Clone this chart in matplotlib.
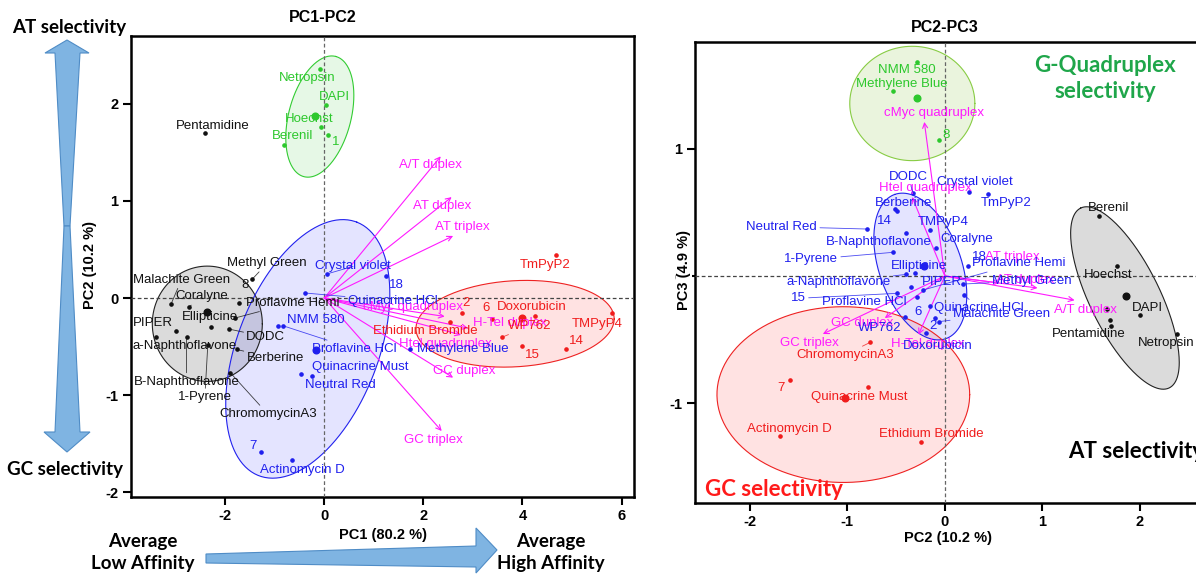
import numpy as np
import matplotlib.pyplot as plt
from matplotlib.patches import Polygon

plt.rcParams['font.family'] = ['Liberation Sans', 'DejaVu Sans']
plt.rcParams['axes.unicode_minus'] = False

W, H = 1196, 575

# ---------------- PC1-PC2 (left) ----------------
# AT binders (green)
L_green_names = ['Netropsin', 'DAPI', 'Hoechst', 'Berenil', '1']
L_green_x = [-0.09, 0.04, -0.07, -0.82, 0.08]
L_green_y = [2.36, 1.99, 1.76, 1.58, 1.68]
L_green_lx = [-0.35, 0.21, -0.30, -0.63, 0.23]
L_green_ly = [2.265, 2.07, 1.84, 1.666, 1.607]
L_green_lead = [False] * 5
L_green_centre = (-0.19, 1.88)

# low affinity group (black)
L_black_names = ['Pentamidine', 'Malachite Green', 'Methyl Green', '8', 'Coralyne',
                 'Proflavine Hemi', 'Ellipticine', 'DODC', 'PIPER', 'a-Naphthoflavone',
                 'B-Naphthoflavone', '1-Pyrene', 'Berberine', 'ChromomycinA3']
L_black_x = [-2.41, -3.09, -1.45, -1.72, -2.73, -1.81, -2.28, -1.92, -3.00, -3.39,
             -2.78, -2.35, -1.77, -1.895]
L_black_y = [1.70, -0.06, 0.196, -0.05, -0.093, -0.207, -0.30, -0.32, -0.335, -0.397,
             -0.397, -0.48, -0.53, -0.77]
L_black_lx = [-2.25, -2.88, -1.15, -1.59, -2.47, -0.64, -2.31, -1.18, -3.46, -2.81,
              -2.78, -2.41, -0.99, -1.14]
L_black_ly = [1.77, 0.19, 0.36, 0.137, 0.017, -0.049, -0.196, -0.40, -0.258, -0.49,
              -0.86, -1.02, -0.62, -1.195]
L_black_lead = [False, True, True, False, True, True, False, True, False, True,
                True, True, True, True]
L_black_centre = (-2.37, -0.14)

# blue group
L_blue_names = ['Crystal violet', '18', 'Quinacrine HCl', 'NMM 580', 'Proflavine HCl',
                'Quinacrine Must', 'Neutral Red', 'Methylene Blue', '7', 'Actinomycin D']
L_blue_x = [0.065, 1.24, -0.39, -0.93, -0.83, -0.46, -0.246, 1.73, -1.27, -0.65]
L_blue_y = [0.25, 0.23, 0.052, -0.286, -0.286, -0.785, -0.80, -0.524, -1.585, -1.67]
L_blue_lx = [0.58, 1.46, 1.38, -0.17, 0.60, 0.72, 0.32, 2.80, -1.44, -0.45]
L_blue_ly = [0.326, 0.137, -0.028, -0.224, -0.524, -0.713, -0.896, -0.524, -1.526, -1.774]
L_blue_lead = [True, False, True, False, True, False, True, False, False, False]
L_blue_centre = (-0.17, -0.54)

# high affinity group (red)
L_red_names = ['TmPyP2', 'TMPyP4', 'Doxorubicin', '6', '2', 'WP762', '14', '15',
               'Ethidium Bromide']
L_red_x = [4.68, 5.80, 4.25, 3.39, 2.77, 3.59, 4.87, 3.98, 2.535]
L_red_y = [0.447, -0.149, -0.19, -0.217, -0.155, -0.403, -0.524, -0.49, -0.242]
L_red_lx = [4.45, 5.50, 4.19, 3.26, 2.87, 4.15, 5.08, 4.19, 2.03]
L_red_ly = [0.344, -0.269, -0.097, -0.103, -0.052, -0.286, -0.441, -0.586, -0.335]
L_red_lead = [False, False, False, False, False, True, False, False, False]
L_red_centre = (3.98, -0.21)

# DNA structure loadings (magenta arrows)
L_vec_names = ['A/T duplex', 'AT duplex', 'AT triplex', 'cMyc quadruplex', 'H-Tel duplex',
               'Htel quadruplex', 'GC duplex', 'GC triplex']
L_vec_x = [2.35, 2.57, 2.60, 2.43, 2.90, 2.76, 2.60, 2.37]
L_vec_y = [1.46, 1.04, 0.64, -0.19, -0.31, -0.38, -0.82, -1.37]
L_vec_lx = [2.15, 2.38, 2.79, 1.79, 3.75, 2.45, 2.82, 2.20]
L_vec_ly = [1.367, 0.946, 0.733, -0.09, -0.255, -0.472, -0.748, -1.464]

# ellipses: centre, semi-axis vector u, semi-axis vector v (data units)
L_ell_green = ((-0.09, 1.87), (0.323, 0.619), (0.606, -0.083))
L_ell_black = ((-2.36, -0.265), (1.11, 0.0), (0.0, 0.594))
L_ell_blue = ((-0.333, -0.524), (0.99, 1.306), (1.327, -0.263))
L_ell_red = ((3.85, -0.265), (2.0, 0.05), (0.0, 0.444))

# ---------------- PC2-PC3 (right) ----------------
R_green_names = ['NMM 580', 'Methylene Blue', '8']
R_green_x = [-0.284, -0.53, -0.058]
R_green_y = [1.68, 1.45, 1.067]
R_green_lx = [-0.39, -0.44, 0.017]
R_green_ly = [1.616, 1.504, 1.111]
R_green_lead = [False] * 3
R_green_centre = (-0.284, 1.40)

R_blue_names = ['DODC', 'Crystal violet', 'TmPyP2', 'Berberine', '14', 'TMPyP4',
                'Neutral Red', 'B-Naphthoflavone', 'Coralyne', '1-Pyrene', '18',
                'Ellipticine', 'a-Naphthoflavone', 'PIPER', 'Proflavine Hemi',
                'Methyl Green', '15', 'Proflavine HCl', 'Quinacrine HCl',
                'Malachite Green', '6', '2', 'WP762', 'Doxorubicin']
R_blue_x = [-0.325, 0.246, 0.444, -0.513, -0.49, -0.154, -0.797, -0.393, -0.095, -0.53,
            0.233, -0.308, -0.393, -0.342, -0.223, 0.188, -0.49, -0.284, 0.198,
            -0.058, -0.154, -0.10, -0.403, -0.188]
R_blue_y = [0.649, 0.656, 0.643, 0.523, 0.512, 0.361, 0.369, 0.34, 0.222, 0.186,
            0.078, 0.021, 0.013, -0.084, -0.11, -0.063, -0.136, -0.167, -0.149,
            -0.358, -0.235, -0.33, -0.324, -0.449]
R_blue_lx = [-0.374, 0.31, 0.63, -0.426, -0.62, -0.02, -1.67, -0.68, 0.22, -1.37,
             0.352, -0.26, -1.09, -0.03, 0.754, 0.89, -1.50, -0.82, 0.35,
             0.58, -0.274, -0.123, -0.667, -0.077]
R_blue_ly = [0.779, 0.737, 0.575, 0.575, 0.434, 0.426, 0.387, 0.264, 0.288, 0.131,
             0.147, 0.081, -0.049, -0.045, 0.10, -0.037, -0.175, -0.206, -0.253,
             -0.298, -0.285, -0.39, -0.41, -0.547]
R_blue_lead = [True, True, False, False, False, False, True, False, True, True,
               False, False, True, False, True, True, True, False, True,
               True, False, False, False, False]
R_blue_centre = (-0.215, 0.081)

R_red_names = ['ChromomycinA3', '7', 'Quinacrine Must', 'Actinomycin D', 'Ethidium Bromide']
R_red_x = [-0.762, -1.59, -0.787, -1.685, -0.239]
R_red_y = [-0.52, -0.82, -0.873, -1.26, -1.30]
R_red_lx = [-1.026, -1.675, -0.88, -1.59, -0.138]
R_red_ly = [-0.62, -0.876, -0.947, -1.20, -1.242]
R_red_lead = [True, False, False, False, False]
R_red_centre = (-1.02, -0.955)

R_black_names = ['Berenil', 'Hoechst', 'DAPI', 'Pentamidine', 'Netropsin', '', '']
R_black_x = [1.583, 1.767, 2.00, 1.665, 2.376, 1.69, 1.70]
R_black_y = [0.473, 0.078, -0.306, -0.261, -0.455, -0.345, -0.39]
R_black_lx = [1.682, 1.672, 2.08, 1.477, 2.27, 1.69, 1.70]
R_black_ly = [0.531, 0.008, -0.249, -0.455, -0.528, -0.345, -0.39]
R_black_lead = [False] * 7
R_black_centre = (1.853, -0.157)

R_vec_names = ['cMyc quadruplex', 'Htel quadruplex', 'AT triplex', 'AT duplex',
               'A/T duplex', 'GC duplex', 'GC triplex', 'H-Tel duplex']
R_vec_x = [-0.21, -0.335, 0.56, 0.95, 1.33, -0.615, -1.25, -0.27]
R_vec_y = [1.21, 0.62, -0.055, -0.094, -0.19, -0.33, -0.455, -0.46]
R_vec_lx = [-0.11, -0.195, 0.69, 0.82, 1.436, -0.85, -1.385, -0.174]
R_vec_ly = [1.281, 0.688, 0.151, -0.031, -0.267, -0.371, -0.528, -0.536]

R_ell_green = ((-0.333, 1.355), (0.641, 0.0), (0.0, 0.449))
R_ell_blue = ((-0.251, 0.0745), (-0.263, 0.566), (0.397, 0.108))
R_ell_red = ((-1.04, -0.931), (1.295, 0.0), (0.0, 0.69))
R_ell_black = ((1.846, -0.1725), (-0.454, 0.706), (0.322, 0.1215))

GREEN = '#2dc82d'
BLUE = '#1f1fee'
RED = '#f01c1c'
BLACK = '#111111'
MAG = '#ff1aff'


def fx(px):
    return px / W


def fy(py):
    return 1 - py / H


def draw_ellipse(ax, ell, edge, face, alpha):
    (cx, cy), u, v = ell
    t = np.linspace(0, 2 * np.pi, 240)
    xs = cx + np.cos(t) * u[0] + np.sin(t) * v[0]
    ys = cy + np.cos(t) * u[1] + np.sin(t) * v[1]
    ax.fill(xs, ys, color=face, alpha=alpha, lw=0, zorder=1)
    ax.plot(xs, ys, color=edge, lw=0.8, zorder=2)


def draw_group(ax, names, xs, ys, lxs, lys, lead, colour, centre):
    ax.plot(xs, ys, 'o', ms=2.3, color=colour, zorder=5)
    ax.plot([centre[0]], [centre[1]], 'o', ms=4.8, color=colour, zorder=5)
    for n, x, y, lx, ly, ld in zip(names, xs, ys, lxs, lys, lead):
        if not n:
            continue
        props = None
        if ld:
            props = dict(arrowstyle='-', color=colour, lw=0.6, alpha=0.8,
                         shrinkA=0, shrinkB=1)
        ax.annotate(n, xy=(x, y), xytext=(lx, ly), color=colour, fontsize=9.5,
                    ha='center', va='center', arrowprops=props, zorder=6)


def draw_vectors(ax, names, xs, ys, lxs, lys):
    for n, x, y, lx, ly in zip(names, xs, ys, lxs, lys):
        ax.annotate('', xy=(x, y), xytext=(0, 0),
                    arrowprops=dict(arrowstyle='->', color=MAG, lw=0.8,
                                    shrinkA=0, shrinkB=0, mutation_scale=9),
                    zorder=4)
        ax.text(lx, ly, n, color=MAG, fontsize=9.5, ha='center', va='center', zorder=6)


def style_axes(ax):
    for s in ax.spines.values():
        s.set_linewidth(1.8)
    ax.tick_params(direction='out', length=6, width=1.5, labelsize=10.5, pad=3)
    for lab in ax.get_xticklabels() + ax.get_yticklabels():
        lab.set_fontweight('bold')
    ax.axhline(0, color='#444444', lw=0.9, ls=(0, (3, 2)), zorder=3)
    ax.axvline(0, color='#666666', lw=0.9, ls=(0, (3, 2)), zorder=3)


fig = plt.figure(figsize=(W / 100, H / 100), dpi=100)

# left panel
ax1 = fig.add_axes([fx(131), fy(497), (634 - 131) / W, (497 - 36) / H])
ax1.set_xlim(-3.9, 6.25)
ax1.set_ylim(-2.05, 2.7)
ax1.set_xticks([-2, 0, 2, 4, 6])
ax1.set_yticks([-2, -1, 0, 1, 2])
style_axes(ax1)
draw_ellipse(ax1, L_ell_green, '#33cc33', '#33cc33', 0.12)
draw_ellipse(ax1, L_ell_black, '#222222', '#808080', 0.28)
draw_ellipse(ax1, L_ell_blue, '#2222ee', '#3333ff', 0.13)
draw_ellipse(ax1, L_ell_red, '#ee2222', '#ff3333', 0.14)
draw_vectors(ax1, L_vec_names, L_vec_x, L_vec_y, L_vec_lx, L_vec_ly)
draw_group(ax1, L_green_names, L_green_x, L_green_y, L_green_lx, L_green_ly,
           L_green_lead, GREEN, L_green_centre)
draw_group(ax1, L_black_names, L_black_x, L_black_y, L_black_lx, L_black_ly,
           L_black_lead, BLACK, L_black_centre)
draw_group(ax1, L_blue_names, L_blue_x, L_blue_y, L_blue_lx, L_blue_ly,
           L_blue_lead, BLUE, L_blue_centre)
draw_group(ax1, L_red_names, L_red_x, L_red_y, L_red_lx, L_red_ly,
           L_red_lead, RED, L_red_centre)

# right panel (runs off the right edge like the original)
ax2 = fig.add_axes([fx(695), fy(502.7), (1260 - 695) / W, (502.7 - 41.7) / H])
ax2.set_xlim(-2.56, 3.23)
ax2.set_ylim(-1.78, 1.84)
ax2.set_xticks([-2, -1, 0, 1, 2])
ax2.set_yticks([-1, 0, 1])
style_axes(ax2)
draw_ellipse(ax2, R_ell_green, '#88cc44', '#99cc55', 0.2)
draw_ellipse(ax2, R_ell_blue, '#2222ee', '#3333ff', 0.13)
draw_ellipse(ax2, R_ell_red, '#ee2222', '#ff3333', 0.14)
draw_ellipse(ax2, R_ell_black, '#222222', '#808080', 0.28)
draw_vectors(ax2, R_vec_names, R_vec_x, R_vec_y, R_vec_lx, R_vec_ly)
draw_group(ax2, R_green_names, R_green_x, R_green_y, R_green_lx, R_green_ly,
           R_green_lead, GREEN, R_green_centre)
draw_group(ax2, R_blue_names, R_blue_x, R_blue_y, R_blue_lx, R_blue_ly,
           R_blue_lead, BLUE, R_blue_centre)
draw_group(ax2, R_red_names, R_red_x, R_red_y, R_red_lx, R_red_ly,
           R_red_lead, RED, R_red_centre)
draw_group(ax2, R_black_names, R_black_x, R_black_y, R_black_lx, R_black_ly,
           R_black_lead, BLACK, R_black_centre)

# titles and axis labels
fig.text(fx(323), fy(17), 'PC1-PC2', fontsize=11.5, fontweight='bold', ha='center', va='center')
fig.text(fx(945), fy(27), 'PC2-PC3', fontsize=11.5, fontweight='bold', ha='center', va='center')
fig.text(fx(383), fy(535), 'PC1 (80.2 %)', fontsize=10.5, fontweight='bold', ha='center', va='center')
fig.text(fx(948), fy(538), 'PC2 (10.2 %)', fontsize=10.5, fontweight='bold', ha='center', va='center')
fig.text(fx(90), fy(265), 'PC2 (10.2 %)', fontsize=10.5, fontweight='bold', rotation=90,
         ha='center', va='center')
fig.text(fx(684), fy(270), 'PC3 (4.9 %)', fontsize=10.5, fontweight='bold', rotation=90,
         ha='center', va='center', zorder=10,
         bbox=dict(facecolor='white', edgecolor='none', pad=0.5))

# big shaded arrows
arrow_face = '#7fb4e2'
arrow_edge = '#4f8cc6'
up_arrow = [(67, 40), (89, 53), (80, 53), (70, 226), (64, 226), (55, 53), (45, 53)]
down_arrow = [(64, 226), (70, 226), (80, 432), (90, 432), (67, 452), (44, 432), (55, 432)]
right_arrow = [(206, 554), (476, 546), (476, 528), (497, 550), (476, 573), (476, 567), (206, 563)]
for shape in (up_arrow, down_arrow, right_arrow):
    pts = [(fx(a), fy(b)) for a, b in shape]
    fig.add_artist(Polygon(pts, closed=True, facecolor=arrow_face, edgecolor=arrow_edge,
                           lw=0.8, transform=fig.transFigure))

big = dict(family=['Lato', 'DejaVu Sans'], fontweight='bold')
fig.text(fx(69), fy(28), 'AT selectivity', fontsize=13.5, ha='center', va='center', **big)
fig.text(fx(65), fy(470), 'GC selectivity', fontsize=13.5, ha='center', va='center', **big)
fig.text(fx(143), fy(542), 'Average', fontsize=13.5, ha='center', va='center', **big)
fig.text(fx(143), fy(564), 'Low Affinity', fontsize=13.5, ha='center', va='center', **big)
fig.text(fx(551), fy(542), 'Average', fontsize=13.5, ha='center', va='center', **big)
fig.text(fx(551), fy(564), 'High Affinity', fontsize=13.5, ha='center', va='center', **big)
fig.text(fx(1105), fy(65), 'G-Quadruplex', fontsize=16, color='#1fa64a', ha='center', va='center', **big)
fig.text(fx(1105), fy(92), 'selectivity', fontsize=16, color='#1fa64a', ha='center', va='center', **big)
fig.text(fx(1068), fy(452), 'AT selectivity', fontsize=16, color='black', ha='left', va='center', **big)
fig.text(fx(705), fy(490), 'GC selectivity', fontsize=16, color='#ff1a1a', ha='left', va='center', **big)

fig.savefig('out.png', dpi=100)
